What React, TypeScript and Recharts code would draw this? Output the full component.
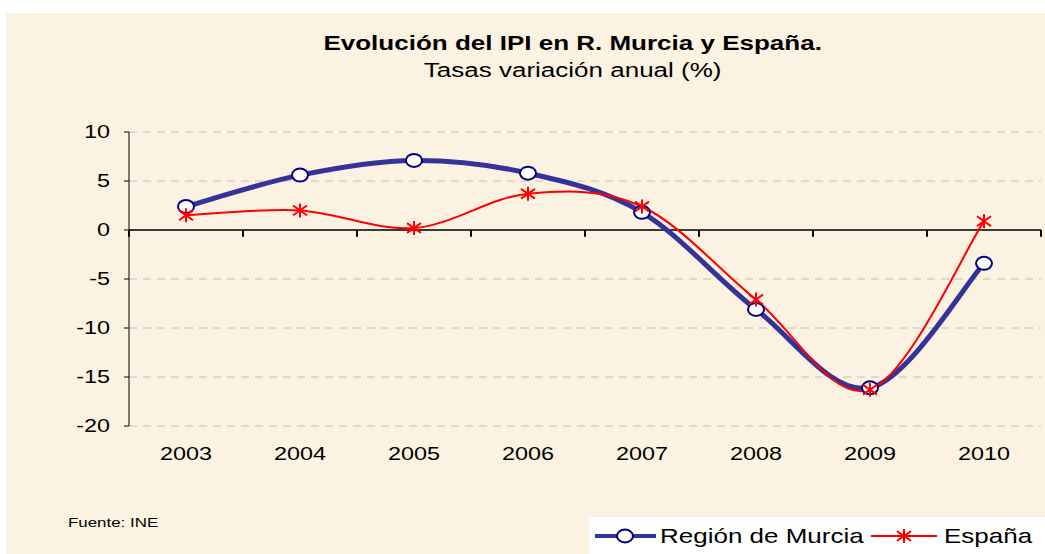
import React from "react";
import {
  CartesianGrid,
  Line,
  LineChart,
  ReferenceLine,
  XAxis,
  YAxis,
} from "recharts";

const years = ["2003", "2004", "2005", "2006", "2007", "2008", "2009", "2010"];
const murcia = [2.4, 5.6, 7.1, 5.8, 1.8, -8.1, -16.1, -3.4];
const espana = [1.5, 2.0, 0.2, 3.7, 2.4, -7.1, -16.3, 0.9];
const yTicks = [-20, -15, -10, -5, 0, 5, 10];

const FONT = "'Liberation Sans', Arial, sans-serif";
const BG = "#FCF2E1";
const NAVY = "#333399";
const RED = "#FF0000";
// the original picture is stretched sideways, so is its text
const STRETCH = 1.3;

// x = slot centre so the boundary tick marks fall on whole numbers
const data = years.map((year, i) => ({
  x: i + 0.5,
  year,
  murcia: murcia[i],
  espana: espana[i],
}));

const boundaries = years.map((_, i) => i).concat(years.length);

// Excel-style smoothed line (Catmull-Rom through every point)
function excelSmooth(context: any) {
  let pts: number[][] = [];
  return {
    areaStart() {},
    areaEnd() {},
    lineStart() {
      pts = [];
    },
    point(x: number, y: number) {
      pts.push([+x, +y]);
    },
    lineEnd() {
      const n = pts.length;
      if (!n) return;
      context.moveTo(pts[0][0], pts[0][1]);
      for (let i = 0; i < n - 1; i++) {
        const p0 = pts[i - 1] || pts[i];
        const p1 = pts[i];
        const p2 = pts[i + 1];
        const p3 = pts[i + 2] || p2;
        context.bezierCurveTo(
          p1[0] + (p2[0] - p0[0]) / 6,
          p1[1] + (p2[1] - p0[1]) / 6,
          p2[0] - (p3[0] - p1[0]) / 6,
          p2[1] - (p3[1] - p1[1]) / 6,
          p2[0],
          p2[1]
        );
      }
    },
  };
}

function CircleDot(props: any) {
  const { cx, cy } = props;
  if (cx == null || cy == null) return null;
  return (
    <ellipse cx={cx} cy={cy} rx={8} ry={6.5} fill="#fff" stroke="#000080" strokeWidth={2} />
  );
}

function StarDot(props: any) {
  const { cx, cy } = props;
  if (cx == null || cy == null) return null;
  const s = 7;
  return (
    <g stroke={RED} strokeWidth={2}>
      <line x1={cx - s} y1={cy - s * 0.7} x2={cx + s} y2={cy + s * 0.7} />
      <line x1={cx - s} y1={cy + s * 0.7} x2={cx + s} y2={cy - s * 0.7} />
      <line x1={cx} y1={cy - s} x2={cx} y2={cy + s} />
    </g>
  );
}

function StretchText({ x, y, anchor, children, size }: any) {
  return (
    <text
      transform={`translate(${x},${y}) scale(${STRETCH},1)`}
      textAnchor={anchor}
      fontFamily={FONT}
      fontSize={size}
      fill="#000"
    >
      {children}
    </text>
  );
}

function YearTick(props: any) {
  const { x, y, payload } = props;
  return (
    <StretchText x={x} y={y + 14} anchor="middle" size={18}>
      {years[Math.floor(payload.value)]}
    </StretchText>
  );
}

function ValueTick(props: any) {
  const { x, y, payload } = props;
  return (
    <StretchText x={x} y={y + 6} anchor="end" size={18}>
      {payload.value}
    </StretchText>
  );
}

function LegendBox() {
  return (
    <div
      style={{
        position: "absolute",
        left: 589,
        top: 517,
        width: 456,
        height: 37,
        background: "#fff",
      }}
    >
      <svg width={456} height={37} style={{ position: "absolute", left: 0, top: 0 }}>
        <line x1={6} y1={19} x2={67} y2={19} stroke={NAVY} strokeWidth={4} />
        <CircleDot cx={36} cy={19} />
        <line x1={282} y1={19} x2={348} y2={19} stroke={RED} strokeWidth={2} />
        <StarDot cx={315} cy={19} />
        <StretchText x={71} y={26} anchor="start" size={20}>
          Región de Murcia
        </StretchText>
        <StretchText x={355} y={26} anchor="start" size={20}>
          España
        </StretchText>
      </svg>
    </div>
  );
}

export default function App() {
  return (
    <div
      style={{
        position: "fixed",
        left: 0,
        top: 0,
        width: 1045,
        height: 554,
        background: "#fff",
        overflow: "hidden",
      }}
    >
      <div
        style={{
          position: "absolute",
          left: 6,
          top: 13,
          right: 0,
          bottom: 0,
          background: BG,
        }}
      />
      <div
        style={{
          position: "absolute",
          left: 100,
          width: 945,
          top: 31,
          textAlign: "center",
          fontFamily: FONT,
          transform: `scaleX(${STRETCH})`,
          transformOrigin: "472px 0",
        }}
      >
        <div style={{ fontWeight: "bold", fontSize: 20, lineHeight: "25px" }}>
          Evolución del IPI en R. Murcia y España.
        </div>
        <div style={{ fontSize: 20, lineHeight: "26px", marginTop: 1 }}>
          Tasas variación anual (%)
        </div>
      </div>
      <div
        style={{
          position: "absolute",
          left: 68,
          top: 515,
          fontFamily: FONT,
          fontSize: 13,
          transform: `scaleX(${STRETCH})`,
          transformOrigin: "0 0",
        }}
      >
        Fuente: INE
      </div>
      <div style={{ position: "absolute", left: 0, top: 0 }}>
        <LineChart
          width={1045}
          height={554}
          data={data}
          margin={{ top: 132, right: 4, left: 69, bottom: 88 }}
          accessibilityLayer={false}
        >
          <CartesianGrid
            vertical={false}
            stroke="#C0C0C0"
            strokeDasharray="8 6"
          />
          <XAxis
            dataKey="x"
            type="number"
            domain={[0, years.length]}
            ticks={data.map((d) => d.x)}
            axisLine={false}
            tickLine={false}
            tickSize={0}
            tickMargin={20}
            height={40}
            tick={<YearTick />}
          />
          <YAxis
            domain={[-20, 10]}
            ticks={yTicks}
            interval={0}
            width={60}
            axisLine={{ stroke: "#000", strokeWidth: 1 }}
            tickLine={{ stroke: "#000" }}
            tickSize={5}
            tickMargin={14}
            tick={<ValueTick />}
          />
          <ReferenceLine y={0} stroke="#000" strokeWidth={1.5} />
          {boundaries.map((b) => (
            <ReferenceLine
              key={`tick-${b}`}
              segment={[
                { x: b, y: 0 },
                { x: b, y: -0.7 },
              ]}
              stroke="#000"
              strokeWidth={2}
            />
          ))}
          <Line
            dataKey="murcia"
            type={excelSmooth as any}
            stroke={NAVY}
            strokeWidth={5}
            dot={<CircleDot />}
            activeDot={false}
            isAnimationActive={false}
          />
          <Line
            dataKey="espana"
            type={excelSmooth as any}
            stroke={RED}
            strokeWidth={2}
            dot={<StarDot />}
            activeDot={false}
            isAnimationActive={false}
          />
        </LineChart>
      </div>
      <LegendBox />
    </div>
  );
}
